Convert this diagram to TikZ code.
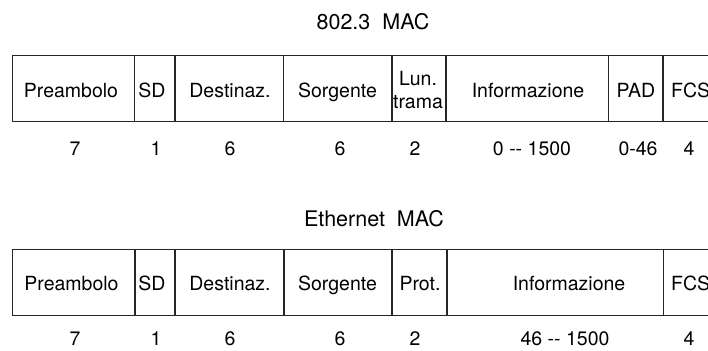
\documentclass[tikz,border=0pt]{standalone}
\usepackage{fontspec}
\setmainfont{TeX Gyre Heros}
\begin{document}
\begin{tikzpicture}[x=1pt,y=-1pt,
  frameline/.style={draw=black!85,line width=1.1pt},
  field/.style={anchor=base,inner sep=0pt,font=\fontsize{19.5}{22.3}\selectfont},
  fieldL/.style={field,anchor=base west},
  size/.style={field},
  heading/.style={anchor=base,inner sep=0pt,font=\fontsize{21.5}{24}\selectfont}]
\useasboundingbox (0,0) rectangle (708,350);

% ---------------- 802.3 MAC frame ----------------
\node[heading] (t1) at (373,30) {802.3\ \ MAC};
\draw[frameline] (708,55.7) -- (12.3,55.7) -- (12.3,121.7) -- (708,121.7);
\foreach \x in {134.3,175,283.7,392,446,608.7,663}
  \draw[frameline] (\x,55.7) -- (\x,121.7);

\node[field] (a1) at (71,97.3) {Preambolo};
\node[field] (a2) at (152,97.3) {SD};
\node[field] (a3) at (230,97.3) {Destinaz.};
\node[field] (a4) at (337.5,97.3) {Sorgente};
\node[field] (a5a) at (418,86) {Lun.};
\node[field] (a5b) at (418,108.3) {trama};
\node[field] (a6) at (528,97.3) {Informazione};
\node[field] (a7) at (636,97.3) {PAD};
\node[fieldL] (a8) at (671,97.3) {FCS};

\node[size] (n1) at (75,155) {7};
\node[size] (n2) at (156,155) {1};
\node[size] (n3) at (230,155) {6};
\node[size] (n4) at (340,155) {6};
\node[size] (n5) at (415,155) {2};
\node[size] (n6) at (532,155) {0 -{}- 1500};
\node[size] (n7) at (638,155) {0-46};
\node[size] (n8) at (689,155) {4};

% ---------------- Ethernet MAC frame ----------------
\node[heading] (t2) at (374,226.7) {Ethernet\ \ MAC};
\draw[frameline] (708,249.3) -- (12.3,249.3) -- (12.3,315.7) -- (708,315.7);
\foreach \x in {135,175,284,392,447,663.7}
  \draw[frameline] (\x,249.3) -- (\x,315.7);

\node[field] (b1) at (71.5,290.5) {Preambolo};
\node[field] (b2) at (152,290.5) {SD};
\node[field] (b3) at (230,290.5) {Destinaz.};
\node[field] (b4) at (337.5,290.5) {Sorgente};
\node[field] (b5) at (420,290.5) {Prot.};
\node[field] (b6) at (569,290.5) {Informazione};
\node[fieldL] (b7) at (671,290.5) {FCS};

\node[size] (m1) at (75,345) {7};
\node[size] (m2) at (156,345) {1};
\node[size] (m3) at (230,345) {6};
\node[size] (m4) at (340,345) {6};
\node[size] (m5) at (415,345) {2};
\node[size] (m6) at (565,345) {46 -{}- 1500};
\node[size] (m7) at (689,345) {4};
\end{tikzpicture}
\end{document}
